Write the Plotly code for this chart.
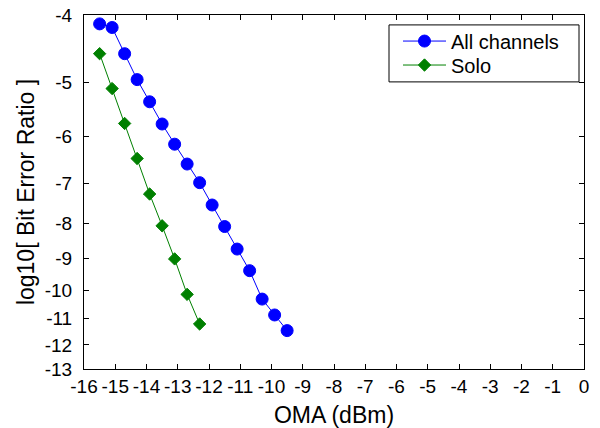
import math
import plotly.graph_objects as go

# Received optical modulation amplitude (dBm) and log10 of the bit error ratio
oma_all = [-15.5, -15.1, -14.7, -14.3, -13.9, -13.5, -13.1, -12.7,
           -12.3, -11.9, -11.5, -11.1, -10.7, -10.3, -9.9, -9.5]
ber_all = [-4.12, -4.17, -4.55, -4.96, -5.34, -5.75, -6.15, -6.57,
           -6.99, -7.53, -8.09, -8.72, -9.37, -10.30, -10.86, -11.44]

oma_solo = [-15.5, -15.1, -14.7, -14.3, -13.9, -13.5, -13.1, -12.7, -12.3]
ber_solo = [-4.55, -5.11, -5.74, -6.45, -7.26, -8.07, -9.01, -10.14, -11.19]

x_ticks = list(range(-16, 1))
y_ticks = list(range(-4, -14, -1))

FONT = "Liberation Sans, Arial, sans-serif"

# BER axis: plotted on a log scale of -log10(BER), the usual waterfall-curve scale
def depth(vals):
    return [-v for v in vals]

fig = go.Figure()
fig.add_trace(go.Scatter(
    x=oma_all, y=depth(ber_all), mode="lines+markers", name="All channels",
    legend="legend",
    line=dict(color="#0000ff", width=1),
    marker=dict(symbol="circle", size=12, color="#0000ff",
                line=dict(color="#0000ff", width=1)),
))
fig.add_trace(go.Scatter(
    x=oma_solo, y=depth(ber_solo), mode="lines+markers", name="Solo",
    legend="legend2",
    line=dict(color="#008000", width=1),
    marker=dict(symbol="diamond", size=9.5, color="#008000",
                line=dict(color="#008000", width=1)),
))

axis_common = dict(
    showline=True, linecolor="black", linewidth=1, mirror="ticks",
    ticks="inside", ticklen=5, tickcolor="black", tickwidth=1,
    showgrid=False, zeroline=False,
    tickfont=dict(family=FONT, size=19, color="black"),
)

fig.update_xaxes(
    **axis_common,
    automargin="right",
    range=[-16, 0], tickvals=x_ticks, ticktext=[str(t) for t in x_ticks],
    tickangle=0,
    title=dict(text="OMA (dBm)", font=dict(family=FONT, size=23, color="black"),
               standoff=14),
)
fig.update_yaxes(
    **axis_common,
    automargin=False,
    type="log",
    range=[math.log10(13), math.log10(4)],
    tickvals=depth(y_ticks), ticktext=[str(t) for t in y_ticks],
    ticklabelstandoff=7,
    title=dict(text="log10[ Bit Error Ratio ]",
               font=dict(family=FONT, size=23, color="black"), standoff=3),
)

# Legend frame
fig.add_shape(type="rect", xref="paper", yref="paper",
              x0=0.61, x1=0.99, y0=0.811, y1=0.972,
              line=dict(color="black", width=1), fillcolor="white", layer="below")

legend_style = dict(xanchor="left", yanchor="middle",
                    bgcolor="rgba(0,0,0,0)", borderwidth=0,
                    font=dict(family=FONT, size=20, color="black"),
                    itemwidth=43)

fig.update_layout(
    width=600, height=428,
    margin=dict(l=84, r=11, t=15, b=59),
    paper_bgcolor="white", plot_bgcolor="white",
    font=dict(family=FONT, color="black"),
    showlegend=True,
    legend=dict(x=0.628, y=0.9264, **legend_style),
    legend2=dict(x=0.628, y=0.8587, **legend_style),
)

fig.write_html("out.html")
